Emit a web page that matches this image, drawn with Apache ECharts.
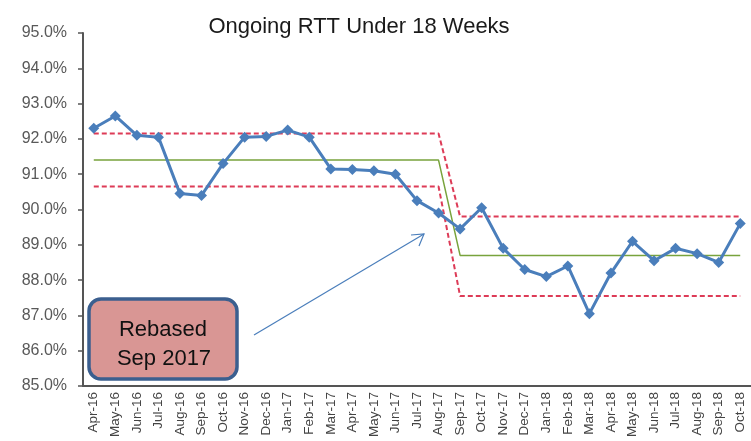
<!DOCTYPE html>
<html>
<head>
<meta charset="utf-8">
<script src="https://cdn.jsdelivr.net/npm/echarts@6/dist/echarts.min.js"></script>
<style>
  html, body { margin: 0; padding: 0; background: #fff; }
  #chart { width: 751px; height: 441px; }
</style>
</head>
<body>
<div id="chart"></div>
<script>
const months = ['Apr-16','May-16','Jun-16','Jul-16','Aug-16','Sep-16','Oct-16','Nov-16','Dec-16',
  'Jan-17','Feb-17','Mar-17','Apr-17','May-17','Jun-17','Jul-17','Aug-17','Sep-17','Oct-17','Nov-17','Dec-17',
  'Jan-18','Feb-18','Mar-18','Apr-18','May-18','Jun-18','Jul-18','Aug-18','Sep-18','Oct-18']

// % of ongoing pathways under 18 weeks
const rtt = [92.3, 92.65, 92.1, 92.05, 90.45, 90.4, 91.3, 92.05, 92.07,
  92.25, 92.05, 91.15, 91.13, 91.1, 91.0, 90.25, 89.9, 89.45, 90.05, 88.9, 88.3,
  88.1, 88.4, 87.05, 88.2, 89.1, 88.55, 88.9, 88.75, 88.5, 89.6]

// control limits, rebased Sep 2017
const mean = [91.4, 91.4, 91.4, 91.4, 91.4, 91.4, 91.4, 91.4, 91.4,
  91.4, 91.4, 91.4, 91.4, 91.4, 91.4, 91.4, 91.4, 88.7, 88.7, 88.7, 88.7,
  88.7, 88.7, 88.7, 88.7, 88.7, 88.7, 88.7, 88.7, 88.7, 88.7]
const ucl = [92.15, 92.15, 92.15, 92.15, 92.15, 92.15, 92.15, 92.15, 92.15,
  92.15, 92.15, 92.15, 92.15, 92.15, 92.15, 92.15, 92.15, 89.8, 89.8, 89.8, 89.8,
  89.8, 89.8, 89.8, 89.8, 89.8, 89.8, 89.8, 89.8, 89.8, 89.8]
const lcl = [90.65, 90.65, 90.65, 90.65, 90.65, 90.65, 90.65, 90.65, 90.65,
  90.65, 90.65, 90.65, 90.65, 90.65, 90.65, 90.65, 90.65, 87.55, 87.55, 87.55, 87.55,
  87.55, 87.55, 87.55, 87.55, 87.55, 87.55, 87.55, 87.55, 87.55, 87.55]

const font = 'Liberation Sans, Arial, sans-serif'
const chart = echarts.init(document.getElementById('chart'))

chart.setOption({
  animation: false,
  title: {
    text: 'Ongoing RTT Under 18 Weeks',
    left: 354,
    top: 11,
    textAlign: 'center',
    textStyle: { fontFamily: font, fontSize: 22, fontWeight: 'normal', color: '#1a1a1a' }
  },
  grid: { left: 83, top: 33, width: 670, bottom: 55 },
  xAxis: {
    type: 'category',
    data: months,
    boundaryGap: true,
    axisLine: { lineStyle: { color: '#555', width: 2 } },
    axisTick: { show: false },
    axisLabel: { rotate: 90, interval: 0, margin: 6, fontFamily: font, fontSize: 13.5, color: '#444' }
  },
  yAxis: {
    type: 'value',
    min: 85,
    max: 95,
    interval: 1,
    splitLine: { show: false },
    axisLine: { show: true, lineStyle: { color: '#555', width: 2 } },
    axisTick: { show: true, length: 5, lineStyle: { color: '#555', width: 1.5 } },
    axisLabel: {
      margin: 16,
      fontFamily: font,
      fontSize: 16,
      color: '#595959',
      formatter: v => v.toFixed(1) + '%'
    }
  },
  series: [
    {
      name: 'Mean', type: 'line', data: mean, symbol: 'none',
      lineStyle: { color: '#78a33c', width: 1.5 }
    },
    {
      name: 'UCL', type: 'line', data: ucl, symbol: 'none',
      lineStyle: { color: '#dd3b57', width: 2, type: [5, 3] }
    },
    {
      name: 'LCL', type: 'line', data: lcl, symbol: 'none',
      lineStyle: { color: '#dd3b57', width: 2, type: [5, 3] }
    },
    {
      name: 'RTT', type: 'line', data: rtt,
      symbol: 'diamond', symbolSize: 11,
      itemStyle: { color: '#4a7ebb' },
      lineStyle: { color: '#4a7ebb', width: 3 }
    }
  ],
  graphic: [
    {
      type: 'rect',
      shape: { x: 89, y: 299, width: 148, height: 80, r: 12 },
      style: { fill: '#d99694', stroke: '#3b5f8f', lineWidth: 3.5 },
      z: 100
    },
    {
      type: 'text',
      x: 163, y: 330,
      style: {
        text: 'Rebased', font: '22px ' + font, fill: '#111',
        align: 'center', verticalAlign: 'middle'
      },
      z: 101
    },
    {
      type: 'text',
      x: 164, y: 359,
      style: {
        text: 'Sep 2017', font: '22px ' + font, fill: '#111',
        align: 'center', verticalAlign: 'middle'
      },
      z: 101
    },
    {
      type: 'line',
      shape: { x1: 254, y1: 335, x2: 424, y2: 234 },
      style: { stroke: '#4a7ebb', lineWidth: 1.2 },
      z: 100
    },
    {
      type: 'polyline',
      shape: { points: [[411, 235], [424, 234], [419, 246]] },
      style: { stroke: '#4a7ebb', lineWidth: 1.2, fill: null },
      z: 100
    }
  ]
})
</script>
</body>
</html>
